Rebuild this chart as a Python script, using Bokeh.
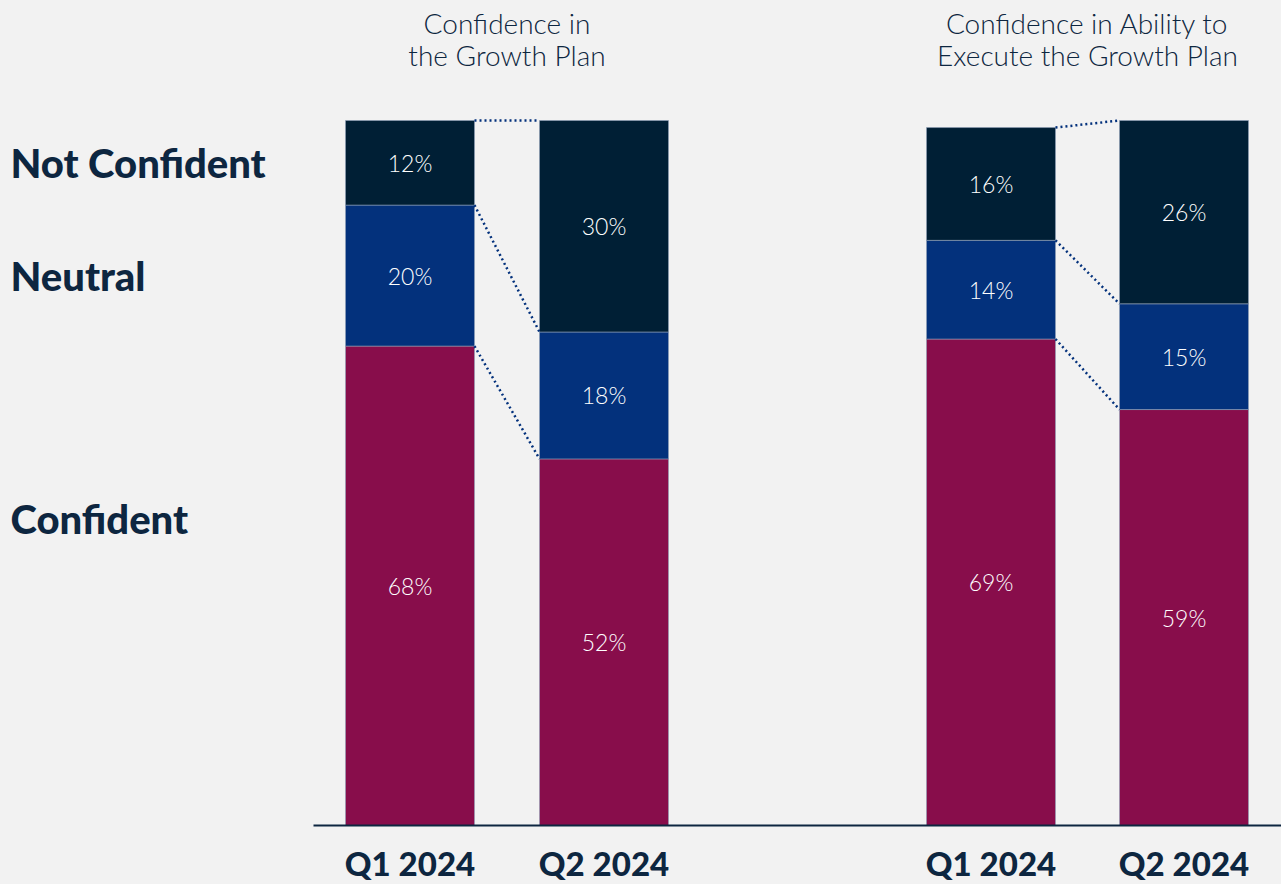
from bokeh.plotting import figure
from bokeh.models import Range1d, ColumnDataSource
from bokeh.embed import file_html
from bokeh.resources import INLINE
from bokeh.core.properties import value

# ---------------- data ----------------
chart_titles = [["Confidence in", "the Growth Plan"],
                ["Confidence in Ability to", "Execute the Growth Plan"]]
quarters = ["Q1 2024", "Q2 2024", "Q1 2024", "Q2 2024"]
categories = ["Confident", "Neutral", "Not Confident"]
confident = [68, 52, 69, 59]
neutral = [20, 18, 14, 15]
not_confident = [12, 30, 16, 26]

# ---------------- style / layout ----------------
BG = "#f2f2f2"
C_CONF = "#880d4b"
C_NEUT = "#03317c"
C_NOT = "#001f35"
TXT = "#0d2640"
FONT_LIGHT = "Lato Light"
FONT_HEAVY = "Lato Black"

W, H = 1281, 884
BASE_PX = 825.0     # image y of 0 %
SCALE = 7.05        # px per %

def py(img_y):
    return (BASE_PX - img_y) / SCALE

bar_x = [409.5, 603.5, 990.5, 1183.5]
bar_w = 129
group_x = [(bar_x[0] + bar_x[1]) / 2, (bar_x[2] + bar_x[3]) / 2]

p = figure(width=W, height=H, output_backend="svg", toolbar_location=None,
           x_range=Range1d(0, W), y_range=Range1d(py(H), py(0)),
           min_border=0)
p.background_fill_color = BG
p.border_fill_color = BG
p.outline_line_color = None
p.axis.visible = False
p.grid.visible = False

# stacked bars
b1 = confident
b2 = [c + n for c, n in zip(confident, neutral)]
b3 = [c + n + m for c, n, m in zip(confident, neutral, not_confident)]
segs = [([0] * 4, b1, C_CONF, confident),
        (b1, b2, C_NEUT, neutral),
        (b2, b3, C_NOT, not_confident)]
for bottom, top, col, vals in segs:
    src = ColumnDataSource(dict(x=bar_x, bottom=bottom, top=top,
                                mid=[(a + b) / 2 for a, b in zip(bottom, top)],
                                lab=[f"{v}%" for v in vals]))
    p.vbar(x="x", bottom="bottom", top="top", width=bar_w, source=src,
           fill_color=col, line_color="#8fa0b8", line_alpha=0.6, line_width=1)
    p.text(x="x", y="mid", text="lab", source=src, text_color="white",
           text_font=value(FONT_LIGHT), text_font_size="23px",
           text_align="center", text_baseline="middle")

# dotted connectors between Q1 and Q2 of each group
for g in range(2):
    i, j = 2 * g, 2 * g + 1
    xs0 = bar_x[i] + bar_w / 2
    xs1 = bar_x[j] - bar_w / 2
    for arr in (b1, b2, b3):
        p.line([xs0, xs1], [arr[i], arr[j]], line_color=C_NEUT, line_width=2.5,
               line_dash="2 3")

# baseline
p.segment(x0=[313], x1=[W + 10], y0=[0], y1=[0], line_color=TXT, line_width=2)

# quarter labels
p.text(x=bar_x, y=[py(862)] * 4, text=quarters, text_color=TXT,
       text_font=value(FONT_HEAVY), text_font_size="33px",
       text_align="center", text_baseline="middle")

# chart titles
for gx, lines in zip(group_x, chart_titles):
    p.text(x=[gx, gx], y=[py(22), py(54)], text=lines, text_color=TXT,
           text_font=value(FONT_LIGHT), text_font_size="28px",
           text_align="center", text_baseline="middle")

# category labels on the left
cat_y = [py(518), py(275), py(162)]
p.text(x=[10] * 3, y=cat_y, text=categories, text_color=TXT,
       text_font=value(FONT_HEAVY), text_font_size="40px",
       text_align="left", text_baseline="middle")

html = file_html(p, INLINE)
html = html.replace("<body>", f'<body style="background:{BG}">')
open("out.html", "w").write(html)
